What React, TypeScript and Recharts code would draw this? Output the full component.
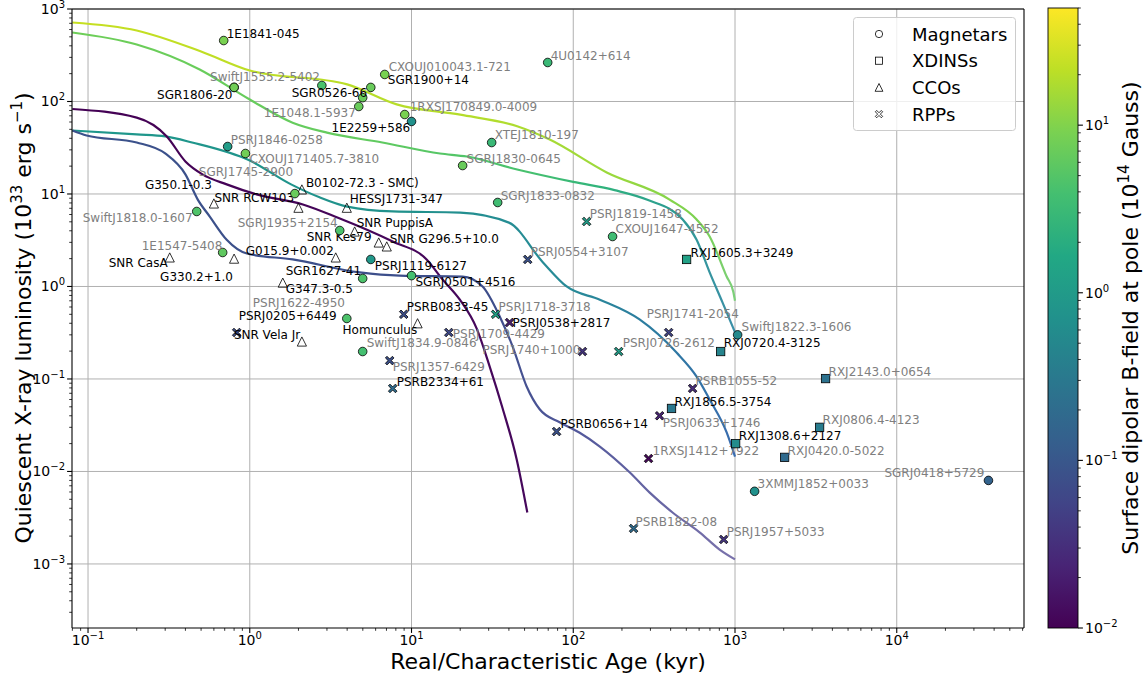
import React from 'react';
import { ComposedChart, Line, Scatter, XAxis, YAxis, CartesianGrid, ReferenceLine, Legend } from 'recharts';

const FONT = 'DejaVu Sans, sans-serif';
const GREY = '#7f7f7f';

// [name, real/characteristic age (kyr), L_X (1e33 erg/s), B at pole (1e14 G)]
const magnetars: [string, number, number, number][] = [
  ['1E1841-045', 0.69, 456, 9],
  ['SwiftJ1555.2-5402', 0.8, 142, 8],
  ['SGR1806-20', 0.8, 142, 8],
  ['', 2.79, 149, 4.3],
  ['SGR0526-66', 4.99, 110, 7],
  ['SGR1900+14', 5.6, 142, 7],
  ['CXOUJ010043.1-721', 6.83, 196, 9],
  ['1E1048.1-5937', 4.72, 88.3, 7],
  ['1RXSJ170849.0-4009', 9.08, 72.3, 9],
  ['1E2259+586', 10.0, 60.8, 0.7],
  ['4U0142+614', 69.5, 264, 3],
  ['XTEJ1810-197', 31.3, 36.0, 3],
  ['SGRJ1830-0645', 20.7, 20.3, 7],
  ['PSRJ1846-0258', 0.73, 32.6, 1.1],
  ['CXOUJ171405.7-3810', 0.94, 27.4, 8],
  ['SGRJ1745-2900', 1.9, 10.1, 7],
  ['SwiftJ1818.0-1607', 0.47, 6.47, 4.6],
  ['SGRJ1935+2154', 3.6, 4.03, 4.5],
  ['1E1547-5408', 0.68, 2.33, 6],
  ['PSRJ1119-6127', 5.6, 1.96, 0.9],
  ['SGR1627-41', 4.99, 1.22, 4.5],
  ['SGRJ0501+4516', 10.0, 1.31, 3.9],
  ['PSRJ1622-4950', 3.98, 0.451, 4.5],
  ['SwiftJ1834.9-0846', 4.99, 0.198, 3.9],
  ['SGRJ1833-0832', 34.1, 8.09, 3.5],
  ['CXOUJ1647-4552', 175, 3.47, 3.5],
  ['SwiftJ1822.3-1606', 1038, 0.3, 0.55],
  ['3XMMJ1852+0033', 1322, 0.0061, 0.7],
  ['SGRJ0418+5729', 36900, 0.008, 0.15],
];

const xdins: [string, number, number, number][] = [
  ['RXJ1605.3+3249', 502, 1.96, 1.3],
  ['RXJ0720.4-3125', 815, 0.198, 0.46],
  ['RXJ2143.0+0654', 3630, 0.101, 0.25],
  ['RXJ1856.5-3754', 405, 0.048, 0.3],
  ['RXJ0806.4-4123', 3334, 0.03, 0.35],
  ['RXJ1308.6+2127', 1009, 0.02, 0.6],
  ['RXJ0420.0-5022', 2026, 0.0142, 0.19],
];

// [name, age (kyr), L_X]
const ccos: [string, number, number][] = [
  ['SNR CasA', 0.32, 2.06],
  ['G330.2+1.0', 0.8, 2.0],
  ['G350.1-0.3', 0.6, 7.9],
  ['SNR RCW103', 2.0, 7.1],
  ['B0102-72.3 - SMC)', 2.1, 11.2],
  ['HESSJ1731-347', 3.98, 7.1],
  ['SNR PuppisA', 4.45, 3.93],
  ['SNR Kes79', 6.27, 2.99],
  ['SNR G296.5+10.0', 7.03, 2.71],
  ['G015.9+0.002', 3.4, 2.06],
  ['G347.3-0.5', 1.6, 1.1],
  ['Homunculus', 10.9, 0.4],
  ['SNR Vela Jr', 2.1, 0.254],
];

const rpps: [string, number, number, number][] = [
  ['PSRJ0205+6449', 0.83, 0.318, 0.075],
  ['PSRB0833-45', 8.95, 0.5, 0.075],
  ['PSRJ1357-6429', 7.33, 0.158, 0.08],
  ['PSRB2334+61', 7.65, 0.079, 0.2],
  ['PSRJ1709-4429', 17.0, 0.318, 0.065],
  ['PSRJ1718-3718', 33.1, 0.5, 1.3],
  ['PSRJ0538+2817', 40.4, 0.408, 0.02],
  ['PSRJ1740+1000', 114, 0.198, 0.036],
  ['PSRB0656+14', 78.9, 0.027, 0.084],
  ['PSRJ1819-1458', 121, 5.04, 1.1],
  ['PSRJ0554+3107', 52.3, 1.96, 0.084],
  ['PSRJ1741-2054', 389, 0.318, 0.055],
  ['PSRJ0726-2612', 191, 0.198, 1.1],
  ['PSRB1055-52', 547, 0.079, 0.028],
  ['PSRJ0633+1746', 342, 0.04, 0.023],
  ['1RXSJ1412+7922', 292, 0.0138, 0.011],
  ['PSRB1822-08', 236, 0.00242, 0.2],
  ['PSRJ1957+5033', 851, 0.00184, 0.036],
];

// cooling curves: [age (kyr), L_X]
const curveA: [number, number][] = [
  [0.08, 715], [0.2, 586], [0.5, 347], [1, 216], [4, 153], [8.1, 93], [20, 72], [45, 54],
  [71, 39], [161, 17.1], [394, 8.7], [579, 5.3], [697, 3.47], [888, 1.28], [975, 0.88], [1000, 0.7],
];
const curveB: [number, number][] = [
  [0.08, 557], [0.2, 413], [0.49, 222], [1, 105], [1.84, 59], [3, 46], [6.6, 36], [15, 27.4],
  [22, 25.4], [45, 18.4], [100, 13.5], [180, 11], [290, 8.6], [475, 5.3], [579, 3.2], [697, 1.42],
  [838, 0.67], [1000, 0.32],
];
const curveC: [number, number][] = [
  [0.08, 48.6], [0.2, 44], [0.3, 41.9], [0.44, 36], [1, 23], [1.8, 12.7], [2.7, 9.2], [4, 7.3],
  [7.65, 6.47], [20, 6.3], [40, 4.9], [65, 1.82], [91, 1.0], [146, 0.72], [257, 0.44], [435, 0.193],
  [579, 0.106], [697, 0.06], [888, 0.0264], [1000, 0.0145],
];
const curveD: [number, number][] = [
  [0.08, 83], [0.2, 67], [0.307, 41.9], [0.4, 22.5], [0.51, 16.3], [0.72, 12.7], [1.1, 9.9],
  [2.13, 7.7], [3.45, 5.6], [7.65, 3.06], [12.4, 1.96], [15.5, 1.2], [19.9, 0.72], [25.3, 0.35],
  [30.4, 0.137], [36.6, 0.048], [44.7, 0.0135], [52, 0.0036],
];
const curveE: [number, number][] = [
  [0.08, 48.6], [0.098, 42.9], [0.2, 36], [0.3, 27.4], [0.4, 16.3], [0.477, 8.7], [0.566, 5.7],
  [0.72, 3.2], [0.96, 2.27], [1.84, 1.96], [4.78, 1.42], [8.45, 1.31], [20.7, 1.28], [27.5, 1.0],
  [35.1, 0.474], [42.2, 0.224], [51.5, 0.083], [62, 0.047], [82.4, 0.034], [109, 0.0264],
  [146, 0.0186], [223, 0.0098], [297, 0.0059], [411, 0.0036], [604, 0.0022], [803, 0.00143],
  [1000, 0.00112],
];

// colour along each curve (field decays with age): [age, colour]
const curveStyles = [
  { id: 'cA', pts: curveA, stops: [[0.08, '#c6df21'], [30, '#b3dd2c'], [200, '#98d83e'], [600, '#7ad151'], [1000, '#7ccf7a']] },
  { id: 'cB', pts: curveB, stops: [[0.08, '#6ece58'], [5, '#63cb5f'], [50, '#48c16e'], [150, '#30b37c'], [400, '#2c9c92'], [1000, '#3c8fa8']] },
  { id: 'cC', pts: curveC, stops: [[0.08, '#1f988b'], [10, '#21918c'], [100, '#288a98'], [400, '#2e78a2'], [1000, '#3a6cae']] },
  { id: 'cD', pts: curveD, stops: [[0.08, '#440154'], [52, '#46085c']] },
  { id: 'cE', pts: curveE, stops: [[0.08, '#3b528b'], [30, '#3d4d8a'], [100, '#52589b'], [1000, '#7a72ab']] },
];

const X_DOMAIN: [number, number] = [0.0796, 61200];
const Y_DOMAIN: [number, number] = [2.03e-4, 1000];
const xMajor = [0.1, 1, 10, 100, 1000, 10000];
const yMajor = [1e-3, 1e-2, 1e-1, 1, 10, 100, 1000];
const cbMajor = [0.01, 0.1, 1, 10];
const B_MIN = 0.01;
const B_MAX = 50;

const labelOffset: Record<string, [number, number]> = {
  '1E1841-045': [3, -7], 'SwiftJ1555.2-5402': [-24, -11], 'SGR1806-20': [-77, 7], 'SGR0526-66': [-71, -5],
  'SGR1900+14': [17, -8], 'CXOUJ010043.1-721': [4, -8], '1E1048.1-5937': [-95, 6], '1RXSJ170849.0-4009': [5, -8],
  '1E2259+586': [-80, 6], '4U0142+614': [3, -7], 'XTEJ1810-197': [3, -8], 'SGRJ1830-0645': [4, -7],
  'PSRJ1846-0258': [3, -7], 'CXOUJ171405.7-3810': [4, 5], 'SGRJ1745-2900': [-96, -22], 'SwiftJ1818.0-1607': [-114, 6],
  'SGRJ1935+2154': [-102, -8], '1E1547-5408': [-81, -7], 'PSRJ1119-6127': [4, 6], 'SGR1627-41': [-77, -8],
  'SGRJ0501+4516': [4, 6], 'PSRJ1622-4950': [-94, -16], 'SwiftJ1834.9-0846': [4, -9], 'SGRJ1833-0832': [3, -7],
  'CXOUJ1647-4552': [3, -8], 'SwiftJ1822.3-1606': [4, -8], '3XMMJ1852+0033': [3, -8], 'SGRJ0418+5729': [-104, -8],
  'RXJ1605.3+3249': [4, -7], 'RXJ0720.4-3125': [3, -9], 'RXJ2143.0+0654': [3, -7], 'RXJ1856.5-3754': [3, -7],
  'RXJ0806.4-4123': [3, -8], 'RXJ1308.6+2127': [3, -8], 'RXJ0420.0-5022': [3, -7],
  'SNR CasA': [-61, 5], 'G330.2+1.0': [-74, 18], 'G350.1-0.3': [-69, -19], 'SNR RCW103': [-84, -10],
  'B0102-72.3 - SMC)': [4, -7], 'HESSJ1731-347': [3, -9], 'SNR PuppisA': [2, -9], 'SNR Kes79': [-72, -6],
  'SNR G296.5+10.0': [3, -8], 'G015.9+0.002': [-90, -7], 'G347.3-0.5': [3, 6], 'Homunculus': [-75, 6],
  'SNR Vela Jr': [-68, -7],
  'PSRJ0205+6449': [2, -17], 'PSRB0833-45': [3, -8], 'PSRJ1357-6429': [3, 6], 'PSRB2334+61': [4, -7],
  'PSRJ1709-4429': [4, 1], 'PSRJ1718-3718': [3, -8], 'PSRJ0538+2817': [3, 0], 'PSRJ1740+1000': [-100, -2],
  'PSRB0656+14': [4, -8], 'PSRJ1819-1458': [3, -8], 'PSRJ0554+3107': [3, -8], 'PSRJ1741-2054': [-22, -19],
  'PSRJ0726-2612': [4, -9], 'PSRB1055-52': [3, -8], 'PSRJ0633+1746': [3, 7], '1RXSJ1412+7922': [4, -8],
  'PSRB1822-08': [2, -7], 'PSRJ1957+5033': [3, -8],
};

const blackLabels = new Set([
  '1E1841-045', 'SGR1806-20', 'SGR0526-66', 'SGR1900+14', '1E2259+586', 'PSRJ1119-6127', 'SGR1627-41',
  'SGRJ0501+4516', 'RXJ1605.3+3249', 'RXJ0720.4-3125', 'RXJ1856.5-3754', 'RXJ1308.6+2127',
  'SNR CasA', 'G330.2+1.0', 'G350.1-0.3', 'SNR RCW103', 'B0102-72.3 - SMC)', 'HESSJ1731-347', 'SNR PuppisA',
  'SNR Kes79', 'SNR G296.5+10.0', 'G015.9+0.002', 'G347.3-0.5', 'Homunculus', 'SNR Vela Jr',
  'PSRJ0205+6449', 'PSRB0833-45', 'PSRB2334+61', 'PSRJ0538+2817', 'PSRB0656+14',
]);

const VIRIDIS = ['#440154', '#482475', '#414487', '#355f8d', '#2a788e', '#21918c', '#22a884', '#44bf70', '#7ad151', '#bddf26', '#fde725'];

function hexToRgb(h: string) {
  return [1, 3, 5].map((i) => parseInt(h.slice(i, i + 2), 16));
}

function viridis(t: number) {
  const s = Math.max(0, Math.min(1, t)) * 10;
  const i = Math.min(9, Math.floor(s));
  const f = s - i;
  const a = hexToRgb(VIRIDIS[i]);
  const b = hexToRgb(VIRIDIS[i + 1]);
  const c = a.map((v, k) => Math.round(v + (b[k] - v) * f));
  return `rgb(${c[0]},${c[1]},${c[2]})`;
}

const bColor = (b: number) => viridis((Math.log10(b) - Math.log10(B_MIN)) / (Math.log10(B_MAX) - Math.log10(B_MIN)));

function minorTicks(lo: number, hi: number) {
  const out: number[] = [];
  for (let k = -5; k <= 5; k++) {
    for (let m = 2; m <= 9; m++) {
      const v = m * Math.pow(10, k);
      if (v >= lo && v <= hi) out.push(v);
    }
  }
  return out;
}

const xTicks = [...xMajor, ...minorTicks(X_DOMAIN[0], X_DOMAIN[1])].sort((a, b) => a - b);
const yTicks = [...yMajor, ...minorTicks(Y_DOMAIN[0], Y_DOMAIN[1])].sort((a, b) => a - b);

const expOf = (v: number) => Math.round(Math.log10(v));
const isMajor = (v: number) => Math.abs(Math.log10(v) - expOf(v)) < 1e-9;
const supText = (e: number) => (e < 0 ? `\u2212${-e}` : `${e}`);

const XTick = (props: any) => {
  const { x, y, payload } = props;
  const v = payload.value;
  const major = isMajor(v);
  return (
    <g>
      <line x1={x} x2={x} y1={y} y2={y + (major ? 4.9 : 2.8)} stroke="#000" strokeWidth={major ? 1.1 : 0.8} />
      {major && (
        <text x={x} y={y + 17} textAnchor="middle" fontSize={14} fontFamily={FONT} fill="#000">
          10<tspan dy={-6} fontSize={10}>{supText(expOf(v))}</tspan>
        </text>
      )}
    </g>
  );
};

const YTick = (props: any) => {
  const { x, y, payload } = props;
  const v = payload.value;
  const major = isMajor(v);
  return (
    <g>
      <line x1={x} x2={x - (major ? 4.9 : 2.8)} y1={y} y2={y} stroke="#000" strokeWidth={major ? 1.1 : 0.8} />
      {major && (
        <text x={x - 7} y={y + 5} textAnchor="end" fontSize={14} fontFamily={FONT} fill="#000">
          10<tspan dy={-6} fontSize={10}>{supText(expOf(v))}</tspan>
        </text>
      )}
    </g>
  );
};

const XTitle = () => (
  <text x={548} y={669} textAnchor="middle" fontSize={22} fontFamily={FONT} fill="#000">
    Real/Characteristic Age (kyr)
  </text>
);

const YTitle = () => (
  <text x={31} y={318} transform="rotate(-90 31 318)" textAnchor="middle" fontSize={22} fontFamily={FONT} fill="#000">
    Quiescent X-ray luminosity (10<tspan dy={-9} fontSize={15}>33</tspan>
    <tspan dy={9}> erg s</tspan>
    <tspan dy={-9} fontSize={15}>{'\u2212'}1</tspan>
    <tspan dy={9}>)</tspan>
  </text>
);

function xMark(cx: number, cy: number, h: number, t: number) {
  const p = [
    [-h, -h + t], [-h + t, -h], [0, -t], [h - t, -h], [h, -h + t], [t, 0],
    [h, h - t], [h - t, h], [0, t], [-h + t, h], [-h, h - t], [-t, 0],
  ];
  return 'M' + p.map(([a, b]) => `${cx + a},${cy + b}`).join('L') + 'Z';
}

function Marker({ kind, cx, cy, fill, small }: { kind: string; cx: number; cy: number; fill: string; small?: boolean }) {
  const k = small ? 0.85 : 1;
  const sw = 0.8;
  if (kind === 'circle') return <circle cx={cx} cy={cy} r={4.3 * k} fill={fill} stroke="#000" strokeWidth={sw} />;
  if (kind === 'square') return <rect x={cx - 4.2 * k} y={cy - 4.2 * k} width={8.4 * k} height={8.4 * k} fill={fill} stroke="#000" strokeWidth={sw} />;
  if (kind === 'triangle') {
    const h = 4.6 * k;
    return <path d={`M${cx},${cy - h}L${cx + h},${cy + h}L${cx - h},${cy + h}Z`} fill={fill} stroke="#000" strokeWidth={sw} />;
  }
  return <path d={xMark(cx, cy, 4.3 * k, 1.6 * k)} fill={fill} stroke="#000" strokeWidth={sw} />;
}

const makeShape = (kind: string) => (props: any) => {
  const { cx, cy, payload } = props;
  if (cx == null || cy == null) return <g />;
  const name: string = payload.name;
  const off = labelOffset[name] || [3, -8];
  const fill = payload.b != null ? bColor(payload.b) : 'none';
  return (
    <g>
      <Marker kind={kind} cx={cx} cy={cy} fill={fill} />
      {name && (
        <text x={cx + off[0]} y={cy + off[1]} dy="0.36em" fontSize={12} fontFamily={FONT} fill={blackLabels.has(name) ? '#000' : GREY}>
          {name}
        </text>
      )}
    </g>
  );
};

const legendItems: [string, string][] = [
  ['Magnetars', 'circle'],
  ['XDINSs', 'square'],
  ['CCOs', 'triangle'],
  ['RPPs', 'x'],
];

const LegendBox = () => (
  <svg width={163} height={114} style={{ display: 'block' }}>
    <rect x={0.5} y={0.5} width={162} height={113} rx={3} fill="#fff" fillOpacity={0.8} stroke="#cccccc" />
    {legendItems.map(([label, kind], i) => (
      <g key={label}>
        <Marker kind={kind} cx={26} cy={17 + i * 26.7} fill="none" small />
        <text x={59} y={17 + i * 26.7 + 6.5} fontSize={18} fontFamily={FONT} fill="#000">
          {label}
        </text>
      </g>
    ))}
  </svg>
);

const CB = { x: 1048, top: 8, bottom: 628, w: 30 };
const cbY = (v: number) =>
  CB.bottom - ((Math.log10(v) - Math.log10(B_MIN)) / (Math.log10(B_MAX) - Math.log10(B_MIN))) * (CB.bottom - CB.top);

const ColorBar = () => (
  <svg width={1148} height={675} style={{ position: 'absolute', left: 0, top: 0, pointerEvents: 'none' }}>
    <defs>
      <linearGradient id="viridisBar" x1="0" y1="1" x2="0" y2="0">
        {VIRIDIS.map((c, i) => (
          <stop key={i} offset={i / 10} stopColor={c} />
        ))}
      </linearGradient>
    </defs>
    <rect x={CB.x} y={CB.top} width={CB.w} height={CB.bottom - CB.top} fill="url(#viridisBar)" stroke="#000" strokeWidth={0.9} />
    {minorTicks(B_MIN, B_MAX).map((v) => (
      <line key={v} x1={CB.x + CB.w} x2={CB.x + CB.w + 2.8} y1={cbY(v)} y2={cbY(v)} stroke="#000" strokeWidth={0.8} />
    ))}
    {cbMajor.map((v) => (
      <g key={v}>
        <line x1={CB.x + CB.w} x2={CB.x + CB.w + 4.9} y1={cbY(v)} y2={cbY(v)} stroke="#000" strokeWidth={1.1} />
        <text x={CB.x + CB.w + 7} y={cbY(v) + 5} fontSize={14} fontFamily={FONT} fill="#000">
          10<tspan dy={-6} fontSize={10}>{supText(expOf(v))}</tspan>
        </text>
      </g>
    ))}
    <text x={1138} y={318} transform="rotate(-90 1138 318)" textAnchor="middle" fontSize={22} fontFamily={FONT} fill="#000">
      Surface dipolar B-field at pole (10<tspan dy={-9} fontSize={15}>14</tspan>
      <tspan dy={9}> Gauss)</tspan>
    </text>
  </svg>
);

const toPoints = (rows: any[]) => rows.map((r) => ({ name: r[0], x: r[1], y: r[2], b: r[3] }));

export default function App() {
  return (
    <div style={{ position: 'absolute', left: 0, top: 0, width: 1148, height: 675, background: '#fff', fontFamily: FONT }}>
      <ComposedChart width={1148} height={675} margin={{ top: 9, right: 124, bottom: 0, left: 0 }}>
        <defs>
          {curveStyles.map((c) => {
            const a0 = Math.log10(c.pts[0][0]);
            const a1 = Math.log10(c.pts[c.pts.length - 1][0]);
            return (
              <linearGradient key={c.id} id={c.id} x1="0" y1="0" x2="1" y2="0">
                {c.stops.map(([age, col]: any, i: number) => (
                  <stop key={i} offset={(Math.log10(age) - a0) / (a1 - a0)} stopColor={col} />
                ))}
              </linearGradient>
            );
          })}
        </defs>
        <CartesianGrid stroke="#b0b0b0" strokeWidth={1} horizontalValues={yMajor} verticalValues={xMajor} />
        <XAxis
          dataKey="x"
          type="number"
          scale="log"
          domain={X_DOMAIN}
          allowDataOverflow
          ticks={xTicks}
          interval={0}
          tick={<XTick />}
          tickLine={false}
          tickSize={0}
          tickMargin={0}
          height={47}
          axisLine={{ stroke: '#000', strokeWidth: 1.1 }}
          label={<XTitle />}
        />
        <YAxis
          dataKey="y"
          type="number"
          scale="log"
          domain={Y_DOMAIN}
          allowDataOverflow
          ticks={yTicks}
          interval={0}
          tick={<YTick />}
          tickLine={false}
          tickSize={0}
          tickMargin={0}
          width={72}
          axisLine={{ stroke: '#000', strokeWidth: 1.1 }}
          label={<YTitle />}
        />
        <ReferenceLine y={Y_DOMAIN[1]} stroke="#000" strokeWidth={1.1} ifOverflow="visible" />
        <ReferenceLine x={X_DOMAIN[1]} stroke="#000" strokeWidth={1.1} ifOverflow="visible" />
        {curveStyles.map((c) => (
          <Line
            key={c.id}
            data={c.pts.map(([x, y]) => ({ x, y }))}
            dataKey="y"
            type="monotone"
            stroke={`url(#${c.id})`}
            strokeWidth={2.2}
            dot={false}
            activeDot={false}
            legendType="none"
            isAnimationActive={false}
          />
        ))}
        <Scatter name="RPPs" data={toPoints(rpps)} shape={makeShape('x')} isAnimationActive={false} />
        <Scatter name="CCOs" data={toPoints(ccos)} shape={makeShape('triangle')} isAnimationActive={false} />
        <Scatter name="XDINSs" data={toPoints(xdins)} shape={makeShape('square')} isAnimationActive={false} />
        <Scatter name="Magnetars" data={toPoints(magnetars)} shape={makeShape('circle')} isAnimationActive={false} />
        <Legend
          layout="horizontal"
          align="center"
          verticalAlign="middle"
          content={() => <LegendBox />}
          wrapperStyle={{ position: 'absolute', left: 853, top: 17, width: 163, height: 114 }}
        />
      </ComposedChart>
      <ColorBar />
    </div>
  );
}
